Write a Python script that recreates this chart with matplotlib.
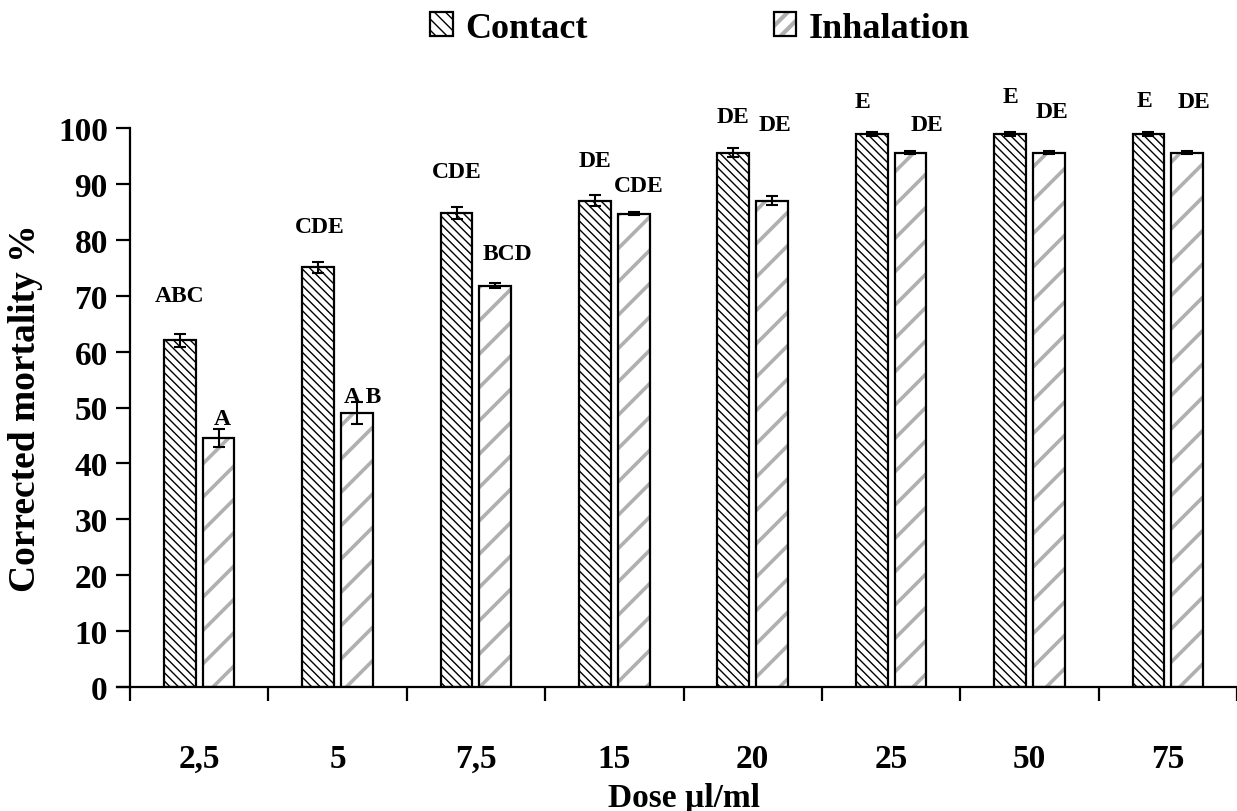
import matplotlib
matplotlib.use('Agg')
import matplotlib.pyplot as plt
import numpy as np
from matplotlib.patches import Patch

# data
doses = ['2,5', '5', '7,5', '15', '20', '25', '50', '75']
contact = [62.0, 75.1, 84.8, 87.0, 95.6, 98.9, 98.9, 98.9]
contact_err = [1.2, 1.0, 1.0, 1.0, 0.8, 0.3, 0.3, 0.3]
inhal = [44.6, 49.0, 71.8, 84.7, 87.0, 95.6, 95.6, 95.6]
inhal_err = [1.6, 1.9, 0.4, 0.3, 0.8, 0.3, 0.3, 0.3]
contact_letters = ['ABC', 'CDE', 'CDE', 'DE', 'DE', 'E', 'E', 'E']
inhal_letters = ['A', 'A B', 'BCD', 'CDE', 'DE', 'DE', 'DE', 'DE']

# where the letters sit (data coords), tweaked by eye
contact_lab_y = [70.1, 82.3, 92.3, 94.1, 102.1, 104.7, 105.7, 105.0]
contact_lab_dx = [0.0, 0.01, 0.0, 0.0, 0.0, -0.07, 0.0, -0.03]
inhal_lab_y = [48.1, 52.0, 77.6, 89.8, 100.7, 100.7, 103.0, 104.8]
inhal_lab_dx = [0.03, 0.04, 0.09, 0.04, 0.02, 0.12, 0.02, 0.05]

GREY = '#b0b0b0'
HATCH_C = '\\\\\\\\'  # 4 backslashes

plt.rcParams['font.family'] = ['Liberation Serif', 'DejaVu Serif']
plt.rcParams['font.weight'] = 'bold'

fig = plt.figure(figsize=(12.37, 8.12), dpi=100)
ax = fig.add_axes([130 / 1237, 1 - 688 / 812, 1 - 130 / 1237, (688 - 129) / 812])

x = np.arange(len(doses))
w = 0.23
off = 0.14

# contact bars: dense black hatch
plt.rcParams['hatch.linewidth'] = 1.0
cb = ax.bar(x - off, contact, w, color='white', edgecolor='black', hatch=HATCH_C, linewidth=0)
for p in cb:
    if hasattr(p, 'set_hatch_linewidth'):
        p.set_hatch_linewidth(1.0)

# inhalation bars: thick grey hatch
plt.rcParams['hatch.linewidth'] = 2.6
ib = ax.bar(x + off, inhal, w, color='white', edgecolor=GREY, hatch='/', linewidth=0)
for p in ib:
    if hasattr(p, 'set_hatch_linewidth'):
        p.set_hatch_linewidth(2.6)

# black outlines on top
ax.bar(x - off, contact, w, color='none', edgecolor='black', linewidth=1.6)
ax.bar(x + off, inhal, w, color='none', edgecolor='black', linewidth=1.6)

ax.errorbar(x - off, contact, yerr=contact_err, fmt='none', ecolor='black',
            elinewidth=1.5, capsize=4.5, capthick=1.5)
ax.errorbar(x + off, inhal, yerr=inhal_err, fmt='none', ecolor='black',
            elinewidth=1.5, capsize=4.5, capthick=1.5)

for i in range(len(doses)):
    ax.text(x[i] - off + contact_lab_dx[i], contact_lab_y[i], contact_letters[i],
            ha='center', va='center', fontsize=17, fontweight='bold')
    ax.text(x[i] + off + inhal_lab_dx[i], inhal_lab_y[i], inhal_letters[i],
            ha='center', va='center', fontsize=17, fontweight='bold')

ax.set_xlim(-0.5, -0.5 + (1237 - 130) / 140)
ax.set_ylim(0, 100)
ax.set_yticks(np.arange(0, 101, 10))
ax.set_xticks(x)
ax.set_xticklabels(doses)
ax.set_xticks(np.arange(-0.5, len(doses), 1.0), minor=True)
ax.tick_params(axis='x', which='major', length=0, pad=40, labelsize=24)
ax.tick_params(axis='x', which='minor', length=10, width=1.6, direction='out')
ax.tick_params(axis='y', length=10, width=1.6, pad=6, labelsize=24)

for s in ['top', 'right']:
    ax.spines[s].set_visible(False)
for s in ['left', 'bottom']:
    ax.spines[s].set_linewidth(1.6)
ax.spines['bottom'].set_bounds(-0.5 - 13 / 140, ax.get_xlim()[1])

ax.set_xlabel('Dose µl/ml', fontsize=24, fontweight='bold')
ax.set_ylabel('Corrected mortality %', fontsize=27, fontweight='bold')
ax.xaxis.set_label_coords(0.5, -0.17)
ax.yaxis.set_label_coords(-0.079, 0.5)

# legend: thin black hatch for contact, thick grey stroke for inhalation
plt.rcParams['hatch.linewidth'] = 1.0
h1 = Patch(facecolor='white', edgecolor='black', hatch='\\\\\\', linewidth=1.6)
h2a = Patch(facecolor='white', edgecolor=GREY, hatch='//', linewidth=0)
h2b = Patch(facecolor='none', edgecolor='black', linewidth=1.6)
leg = fig.legend([h1, (h2a, h2b)], ['Contact', 'Inhalation'], loc='center',
                 bbox_to_anchor=(0.566, 0.964), ncol=2, frameon=False,
                 handlelength=0.62, handleheight=0.62, handletextpad=0.35,
                 columnspacing=5.15, prop={'weight': 'bold', 'size': 26})
for p in leg.get_patches():
    if p.get_hatch() == '//' and hasattr(p, 'set_hatch_linewidth'):
        p.set_hatch_linewidth(3.0)

fig.savefig('out.png', dpi=100)
